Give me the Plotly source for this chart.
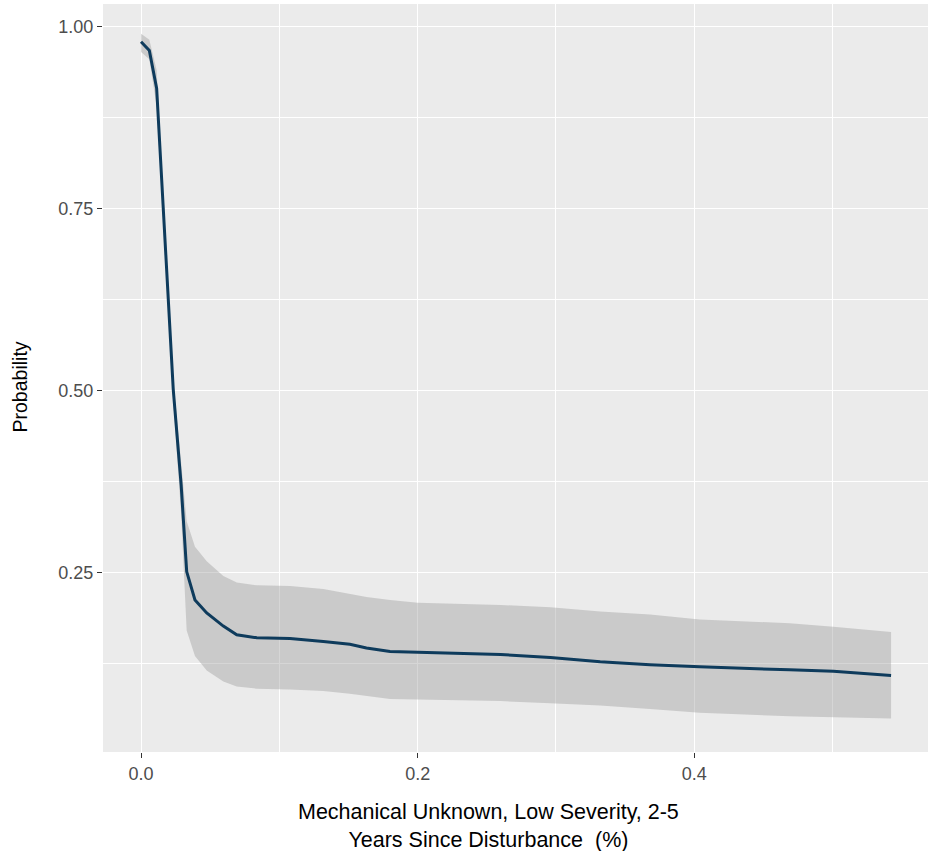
import plotly.graph_objects as go

# Predictor values (proportion)
x_vals = [0.0, 0.006, 0.0113, 0.0137, 0.0161, 0.0233, 0.0290, 0.0330, 0.0390, 0.0475,
          0.0595, 0.0692, 0.0837, 0.1077, 0.1318, 0.151, 0.163, 0.180, 0.200, 0.26,
          0.296, 0.332, 0.368, 0.404, 0.469, 0.5006, 0.5423]

# Predicted probability
prob_mean = [0.979, 0.967, 0.915, 0.831, 0.748, 0.501, 0.370, 0.251, 0.212, 0.194,
             0.176, 0.164, 0.160, 0.159, 0.155, 0.151, 0.146, 0.141, 0.140, 0.137,
             0.133, 0.127, 0.123, 0.120, 0.116, 0.114, 0.108]

# Confidence band
prob_upper = [0.990, 0.982, 0.940, 0.845, 0.760, 0.515, 0.400, 0.320, 0.285, 0.265,
              0.245, 0.236, 0.232, 0.231, 0.227, 0.220, 0.216, 0.212, 0.208, 0.205,
              0.202, 0.196, 0.192, 0.185, 0.180, 0.175, 0.168]
prob_lower = [0.965, 0.955, 0.890, 0.815, 0.735, 0.485, 0.330, 0.170, 0.135, 0.115,
              0.100, 0.093, 0.090, 0.089, 0.087, 0.083, 0.080, 0.076, 0.075, 0.073,
              0.070, 0.067, 0.062, 0.057, 0.052, 0.051, 0.049]

x_title = "Mechanical Unknown, Low Severity, 2-5<br>Years Since Disturbance  (%)"
y_title = "Probability"

fig = go.Figure()
fig.add_trace(go.Scatter(x=x_vals, y=prob_upper, mode="lines",
                         line=dict(width=0, color="rgba(0,0,0,0)"),
                         showlegend=False, hoverinfo="skip"))
fig.add_trace(go.Scatter(x=x_vals, y=prob_lower, mode="lines",
                         line=dict(width=0, color="rgba(0,0,0,0)"),
                         fill="tonexty", fillcolor="rgba(153,153,153,0.4)",
                         showlegend=False, hoverinfo="skip"))
fig.add_trace(go.Scatter(x=x_vals, y=prob_mean, mode="lines",
                         line=dict(width=3, color="#0E3B5C"),
                         showlegend=False))

font_family = "Liberation Sans, Arial, sans-serif"

fig.update_layout(
    width=932, height=851,
    margin=dict(l=103, r=4, t=4, b=99),
    paper_bgcolor="white",
    plot_bgcolor="#EBEBEB",
    font=dict(family=font_family, color="black"),
    xaxis=dict(
        range=[-0.0275, 0.569],
        tick0=0, dtick=0.2, tickformat=".1f",
        showgrid=True, gridcolor="white", gridwidth=1.4,
        minor=dict(dtick=0.1, tick0=0, showgrid=True, gridcolor="white", gridwidth=0.7),
        zeroline=False, showline=False,
        ticks="outside", ticklen=5, tickwidth=1, tickcolor="#333333",
        tickfont=dict(size=18, color="#4D4D4D", family=font_family),
    ),
    yaxis=dict(
        range=[0.003, 1.031],
        tick0=0, dtick=0.25, tickformat=".2f",
        showgrid=True, gridcolor="white", gridwidth=1.4,
        minor=dict(dtick=0.125, tick0=0, showgrid=True, gridcolor="white", gridwidth=0.7),
        zeroline=False, showline=False,
        ticks="outside", ticklen=5, tickwidth=1, tickcolor="#333333",
        tickfont=dict(size=18, color="#4D4D4D", family=font_family),
    ),
    annotations=[
        dict(text=x_title, xref="paper", yref="paper", x=0.4667, y=-0.061,
             xanchor="center", yanchor="top", showarrow=False, align="center",
             font=dict(size=21.5, color="black", family=font_family)),
        dict(text=y_title, xref="paper", yref="paper", x=-0.1012, y=0.488,
             xanchor="center", yanchor="middle", showarrow=False, textangle=-90,
             font=dict(size=19.5, color="black", family=font_family)),
    ],
)

fig.write_html("out.html")
